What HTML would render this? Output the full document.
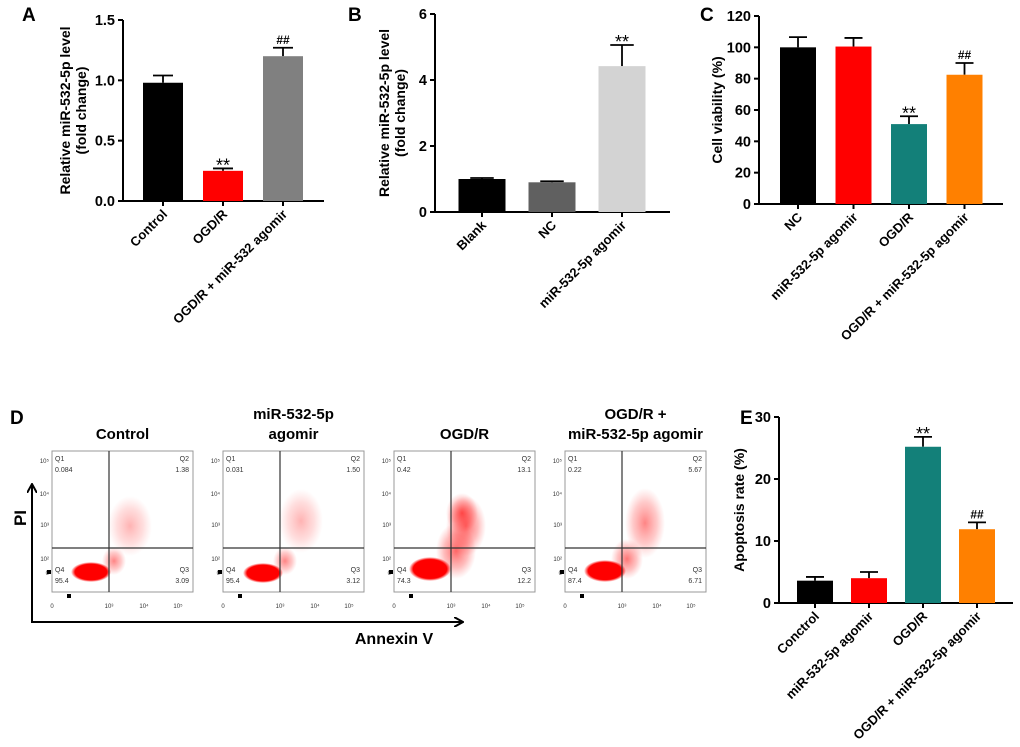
<!DOCTYPE html>
<html><head><meta charset="utf-8"><style>
body{margin:0;background:#fff}
svg{display:block;font-family:"Liberation Sans",Arial,sans-serif}
</style></head><body>
<svg id="fig" width="1020" height="747" viewBox="0 0 1020 747">
<defs>
<radialGradient id="blob"><stop offset="0" stop-color="#f00"/><stop offset="0.8" stop-color="#f00"/><stop offset="1" stop-color="#f00" stop-opacity="0"/></radialGradient>
<radialGradient id="cloud"><stop offset="0" stop-color="#f00" stop-opacity="0.6"/><stop offset="0.6" stop-color="#f22" stop-opacity="0.3"/><stop offset="1" stop-color="#f44" stop-opacity="0"/></radialGradient>
<marker id="arr" markerWidth="10" markerHeight="10" refX="8" refY="5" orient="auto" markerUnits="userSpaceOnUse"><path d="M0,0 L9,5 L0,10" fill="none" stroke="#000" stroke-width="2"/></marker>
</defs>
<g font-weight="bold" font-size="19">
<text x="22" y="21">A</text>
<text x="348" y="21">B</text>
<text x="700" y="21">C</text>
<text x="10" y="424">D</text>
<text x="740" y="424">E</text>
</g>
</svg>
<script>
// Panel A
const catsA = ["Control","OGD/R","OGD/R + miR-532 agomir"];
const valsA = [0.98,0.25,1.20];
const errA = [0.06,0.02,0.07];
const sigA = ["","**","##"];
const ticksA = ["0.0","0.5","1.0","1.5"];
// Panel B
const catsB = ["Blank","NC","miR-532-5p agomir"];
const valsB = [1.0,0.9,4.42];
const errB = [0.03,0.03,0.64];
const sigB = ["","","**"];
const ticksB = ["0","2","4","6"];
// Panel C
const catsC = ["NC","miR-532-5p agomir","OGD/R","OGD/R + miR-532-5p agomir"];
const valsC = [100,100.5,51,82.5];
const errC = [6.5,5.5,5,7.5];
const sigC = ["","","**","##"];
const ticksC = ["0","20","40","60","80","100","120"];
// Panel E
const catsE = ["Conctrol","miR-532-5p agomir","OGD/R","OGD/R + miR-532-5p agomir"];
const valsE = [3.6,4.0,25.2,11.9];
const errE = [0.6,1.0,1.6,1.1];
const sigE = ["","","**","##"];
const ticksE = ["0","10","20","30"];
// Panel D quadrant percentages
const flowTitles = [["Control"],["miR-532-5p","agomir"],["OGD/R"],["OGD/R +","miR-532-5p  agomir"]];
const q1 = ["0.084","0.031","0.42","0.22"];
const q2 = ["1.38","1.50","13.1","5.67"];
const q3 = ["3.09","3.12","12.2","6.71"];
const q4 = ["95.4","95.4","74.3","87.4"];

const NS="http://www.w3.org/2000/svg";
const svg=document.getElementById('fig');
function mk(tag,attrs,parent,text){const e=document.createElementNS(NS,tag);for(const k in attrs)e.setAttribute(k,attrs[k]);if(text!==undefined)e.textContent=text;(parent||svg).appendChild(e);return e;}

function barChart(id,cfg,cats,vals,errs,sigs,ticks,colors){
  const g=mk('g',{});
  
  
  const max=parseFloat(ticks[ticks.length-1]);
  const y=v=>cfg.yb-(v/max)*(cfg.yb-cfg.yt);
  const ax=mk('path',{d:`M${cfg.x0},${cfg.yt} V${cfg.yb} H${cfg.x1}`,stroke:'#000','stroke-width':2,fill:'none'},g);
  
  
  ticks.forEach(t=>{
    const yy=y(parseFloat(t));
    mk('line',{x1:cfg.x0-5,x2:cfg.x0,y1:yy,y2:yy,stroke:'#000','stroke-width':2},g);
    const tl=mk('text',{x:cfg.x0-8,y:yy+5,'text-anchor':'end','font-size':14.5,'font-weight':'bold'},g,t);
    
    
  });
  const yt=mk('text',{transform:`translate(${cfg.tx},${(cfg.yt+cfg.yb)/2}) rotate(-90)`,'text-anchor':'middle','font-size':14,'font-weight':'bold'},g);
  
  
  cfg.title.forEach((ln,i)=>mk('tspan',{x:0,dy:i?16:0},yt,ln));
  cats.forEach((c,i)=>{
    const cx=cfg.c0+i*cfg.step, w=cfg.w;
    const top=y(vals[i]), et=y(vals[i]+errs[i]);
    mk('line',{x1:cx,x2:cx,y1:et,y2:top,stroke:'#000','stroke-width':1.8},g);
    mk('line',{x1:cx-w/4,x2:cx+w/4,y1:et,y2:et,stroke:'#000','stroke-width':1.8},g);
    const b=mk('rect',{x:cx-w/2,y:top,width:w,height:cfg.yb-top,fill:colors[i]},g);
    
    
    if(sigs[i]){
      const star=sigs[i]=='**';
      const s=mk('text',{x:cx,y:star?et+3:et-4,'text-anchor':'middle','font-size':star?18:12,'font-weight':star?'normal':'bold'},g,sigs[i]);
      
      
    }
    mk('line',{x1:cx,x2:cx,y1:cfg.yb,y2:cfg.yb+5,stroke:'#000','stroke-width':2},g);
    const xl=mk('text',{transform:`translate(${cx+5},${cfg.yb+14}) rotate(-45)`,'text-anchor':'end','font-size':13,'font-weight':'bold'},g,c);
    
    
  });
}
barChart('chart-a',{x0:123,x1:324,yt:20,yb:201,tx:70,c0:163,step:60,w:40,title:["Relative miR-532-5p level","(fold change)"]},catsA,valsA,errA,sigA,ticksA,["#000","#ff0000","#808080"]);
barChart('chart-b',{x0:435,x1:670,yt:14,yb:212,tx:389,c0:482,step:70,w:47,title:["Relative miR-532-5p level","(fold change)"]},catsB,valsB,errB,sigB,ticksB,["#000","#606060","#d3d3d3"]);
barChart('chart-c',{x0:759,x1:1003,yt:16,yb:204,tx:722,c0:798,step:55.5,w:36,title:["Cell viability (%)"]},catsC,valsC,errC,sigC,ticksC,["#000","#ff0000","#138079","#ff8000"]);
barChart('chart-e',{x0:779,x1:1013,yt:417,yb:603,tx:744,c0:815,step:54,w:36,title:["Apoptosis rate (%)"]},catsE,valsE,errE,sigE,ticksE,["#000","#ff0000","#138079","#ff8000"]);

// Panel D flow plots
const blobs=[
 [{cx:62,cy:110,rx:12,ry:14,k:'cloud',o:0.8},{cx:78,cy:75,rx:22,ry:30,k:'cloud',o:0.5},{cx:39,cy:121,rx:20,ry:10,k:'blob'}],
 [{cx:62,cy:110,rx:12,ry:14,k:'cloud',o:0.8},{cx:78,cy:70,rx:22,ry:32,k:'cloud',o:0.5},{cx:40,cy:122,rx:20,ry:10,k:'blob'}],
 [{cx:62,cy:100,rx:20,ry:28,k:'cloud',o:1},{cx:72,cy:75,rx:20,ry:30,k:'cloud',o:1},{cx:68,cy:62,rx:16,ry:20,k:'cloud',o:1},{cx:36,cy:118,rx:21,ry:12,k:'blob'}],
 [{cx:62,cy:108,rx:16,ry:20,k:'cloud',o:0.9},{cx:80,cy:72,rx:20,ry:35,k:'cloud',o:0.8},{cx:40,cy:120,rx:21,ry:11,k:'blob'}]
];
flowTitles.forEach((t,i)=>{
  const bx=52+i*171, by=451, bw=141, bh=141;
  const g=mk('g',{});
  
  
  t.forEach((ln,j)=>{
    const tt=mk('text',{x:bx+bw/2,y:t.length==1?439:(419+j*20),'text-anchor':'middle','font-size':15,'font-weight':'bold'},g,ln);
    
    
  });
  mk('rect',{x:bx,y:by,width:bw,height:bh,fill:'#fff',stroke:'#999','stroke-width':1},g);
  blobs[i].forEach(b=>mk('ellipse',{cx:bx+b.cx,cy:by+b.cy,rx:b.rx,ry:b.ry,fill:`url(#${b.k})`,opacity:b.o||1},g));
  mk('line',{x1:bx+57,x2:bx+57,y1:by,y2:by+bh,stroke:'#333','stroke-width':1.2},g);
  mk('line',{x1:bx,x2:bx+bw,y1:by+97,y2:by+97,stroke:'#333','stroke-width':1.2},g);
  const fs={'font-size':7,fill:'#333'};
  mk('text',Object.assign({x:bx+3,y:by+10},fs),g,'Q1');
  mk('text',Object.assign({x:bx+3,y:by+21},fs),g,q1[i]);
  mk('text',Object.assign({x:bx+bw-4,y:by+10,'text-anchor':'end'},fs),g,'Q2');
  mk('text',Object.assign({x:bx+bw-4,y:by+21,'text-anchor':'end'},fs),g,q2[i]);
  mk('text',Object.assign({x:bx+3,y:by+121},fs),g,'Q4');
  mk('text',Object.assign({x:bx+3,y:by+132},fs),g,q4[i]);
  mk('text',Object.assign({x:bx+bw-4,y:by+121,'text-anchor':'end'},fs),g,'Q3');
  mk('text',Object.assign({x:bx+bw-4,y:by+132,'text-anchor':'end'},fs),g,q3[i]);
  const ts={'font-size':6,fill:'#333','text-anchor':'end'};
  [['10⁵',12],['10⁴',45],['10³',76],['10²',110],['0',124]].forEach(a=>mk('text',Object.assign({x:bx-3,y:by+a[1]},ts),g,a[0]));
  [['0',0],['10³',57],['10⁴',92],['10⁵',126]].forEach(a=>mk('text',Object.assign({x:bx+a[1],y:by+bh+16,'text-anchor':'middle','font-size':6,fill:'#333'}),g,a[0]));
  mk('rect',{x:bx-5,y:by+119,width:4,height:4,fill:'#000'},g);
  mk('rect',{x:bx+15,y:by+bh+2,width:4,height:4,fill:'#000'},g);
});
const pa=mk('path',{d:'M32,622 V485',stroke:'#000','stroke-width':2,fill:'none','marker-end':'url(#arr)'});


const ha=mk('path',{d:'M31,622 H462',stroke:'#000','stroke-width':2,fill:'none','marker-end':'url(#arr)'});


const pl=mk('text',{transform:'translate(26,518) rotate(-90)','text-anchor':'middle','font-size':17,'font-weight':'bold'},svg,'PI');


const al=mk('text',{x:394,y:644,'text-anchor':'middle','font-size':16,'font-weight':'bold'},svg,'Annexin V');


</script>
</body></html>
